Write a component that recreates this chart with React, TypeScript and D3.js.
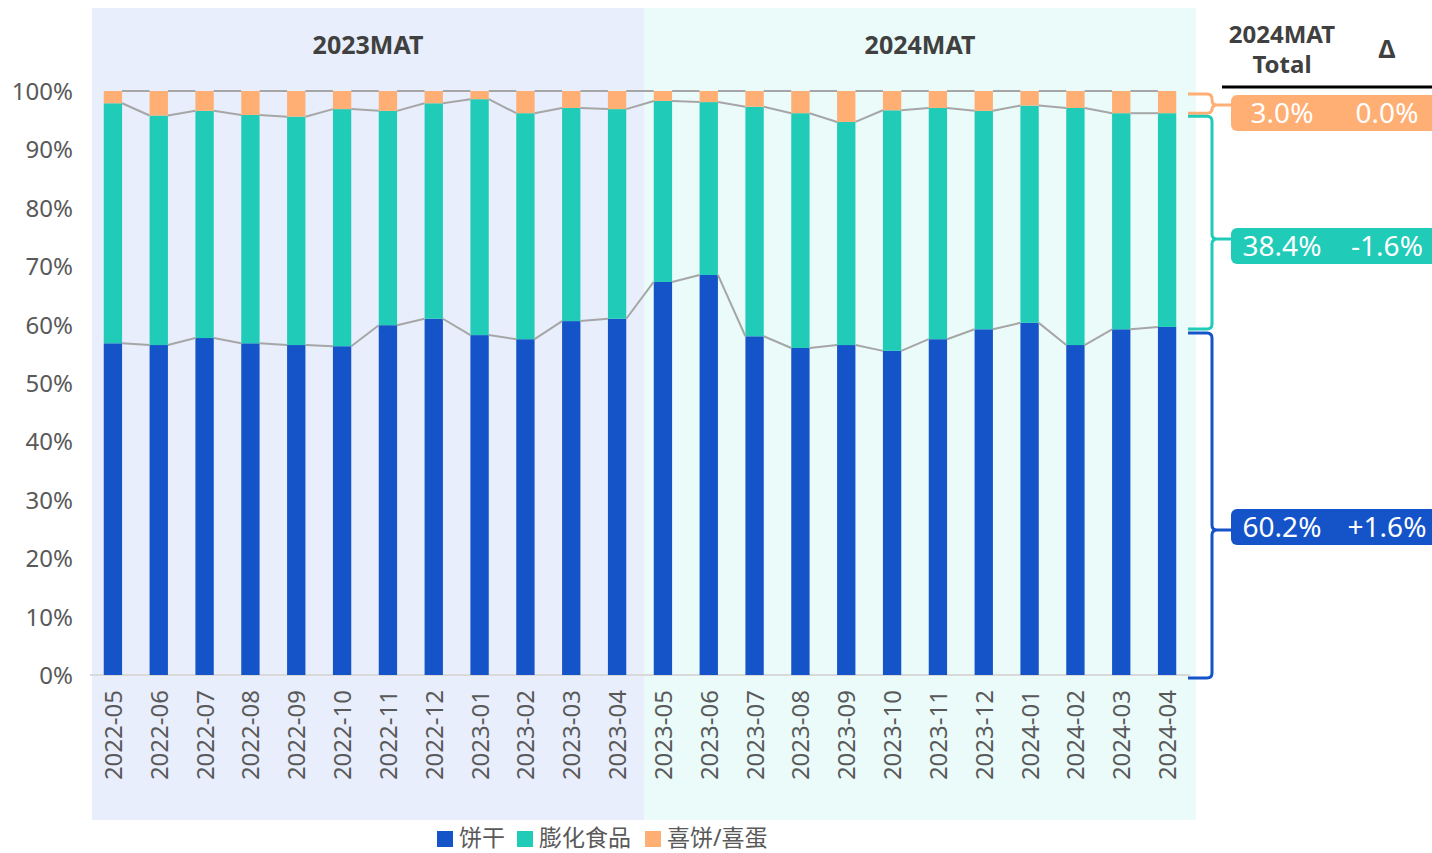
import React from 'react';
import * as d3 from 'd3';

// months on x axis
const months = [
  '2022-05', '2022-06', '2022-07', '2022-08', '2022-09', '2022-10', '2022-11', '2022-12',
  '2023-01', '2023-02', '2023-03', '2023-04', '2023-05', '2023-06', '2023-07', '2023-08',
  '2023-09', '2023-10', '2023-11', '2023-12', '2024-01', '2024-02', '2024-03', '2024-04',
];

const seriesNames = ['饼干', '膨化食品', '喜饼/喜蛋'];
const seriesColors = ['#1453C8', '#20CBB8', '#FFAE74'];

// share of each category, %
const biscuit = [56.8, 56.5, 57.7, 56.8, 56.5, 56.3, 59.9, 61.0, 58.2, 57.5, 60.6, 61.0, 67.3, 68.5, 58.0, 56.0, 56.5, 55.5, 57.5, 59.2, 60.3, 56.5, 59.2, 59.6];
const puffed = [41.1, 39.3, 38.9, 39.1, 39.1, 40.6, 36.7, 36.9, 40.4, 38.7, 36.5, 35.9, 31.0, 29.6, 39.3, 40.2, 38.2, 41.2, 39.6, 37.4, 37.2, 40.6, 37.0, 36.6];
const wedding = [2.1, 4.2, 3.4, 4.1, 4.4, 3.1, 3.4, 2.1, 1.4, 3.8, 2.9, 3.1, 1.7, 1.9, 2.7, 3.8, 5.3, 3.3, 2.9, 3.4, 2.5, 2.9, 3.8, 3.8];

const periods = ['2023MAT', '2024MAT'];
const yTicks = [0, 10, 20, 30, 40, 50, 60, 70, 80, 90, 100];

// 2024MAT total share and change, ordered wedding / puffed / biscuit
const totalLabels = ['3.0%', '38.4%', '60.2%'];
const deltaLabels = ['0.0%', '-1.6%', '+1.6%'];

const FONT = '"Noto Sans", "Noto Sans CJK SC", sans-serif';
const GRAY = '#595959';

export default function App() {
  const width = 1432;
  const height = 853;

  const x = d3.scaleBand<string>().domain(months).range([90, 1190]).paddingInner(0.6).paddingOuter(0.3);
  const y = d3.scaleLinear().domain([0, 100]).range([675, 91]);
  const bw = x.bandwidth();

  const rows = months.map((m, i) => ({ month: m, s0: biscuit[i], s1: puffed[i], s2: wedding[i] }));
  const stacked = d3.stack<any>().keys(['s0', 's1', 's2'])(rows);

  // brace spans from the last bar
  const last = rows.length - 1;
  const cum1 = biscuit[last];
  const cum2 = biscuit[last] + puffed[last];
  const braces = [
    { top: y(100) + 3, bot: y(cum2), tip: 105, box: 113, color: seriesColors[2] },
    { top: y(cum2) + 3, bot: y(cum1) + 2, tip: 239, box: 246, color: seriesColors[1] },
    { top: y(cum1) + 6, bot: y(0) + 3, tip: 530, box: 527, color: seriesColors[0] },
  ];

  const bx0 = 1188;
  const bx1 = 1212;
  const r = 5;
  const bracePath = (b: any) =>
    `M${bx0},${b.top} L${bx1 - r},${b.top} Q${bx1},${b.top} ${bx1},${b.top + r} ` +
    `L${bx1},${b.tip - r} Q${bx1},${b.tip} ${bx1 + r},${b.tip} Q${bx1},${b.tip} ${bx1},${b.tip + r} ` +
    `L${bx1},${b.bot - r} Q${bx1},${b.bot} ${bx1 - r},${b.bot} L${bx0},${b.bot}`;

  return (
    <svg width={width} height={height} style={{ display: 'block', position: 'absolute', left: 0, top: 0 }}>
      <rect x={0} y={0} width={width} height={height} fill="#fff" />
      {/* period backgrounds */}
      <rect x={92} y={8} width={552} height={812} fill="#E8EEFB" />
      <rect x={644} y={8} width={552} height={812} fill="#EAFBF9" />
      {periods.map((p, i) => (
        <text key={p} x={368 + i * 552} y={54} textAnchor="middle" fontFamily={FONT} fontWeight="bold"
          fontSize={25} fill="#404040">{p}</text>
      ))}

      {/* y axis labels */}
      {yTicks.map(t => (
        <text key={t} x={73} y={y(t) + 9} textAnchor="end" fontFamily={FONT} fontSize={24} fill={GRAY}>{t}%</text>
      ))}
      <line x1={90} x2={1190} y1={y(0)} y2={y(0)} stroke="#D9D9D9" strokeWidth={2} />

      {/* bars */}
      {stacked.map((layer, k) => (
        <g key={k} fill={seriesColors[k]}>
          {layer.map((d: any, i: number) => (
            <rect key={i} x={x(months[i])} y={y(d[1])} width={bw} height={y(d[0]) - y(d[1])} />
          ))}
        </g>
      ))}

      {/* series lines between bars */}
      {stacked.map((layer, k) => (
        <g key={'l' + k} stroke="#A6A6A6" strokeWidth={2}>
          {layer.slice(0, -1).map((d: any, i: number) => (
            <line key={i} x1={(x(months[i]) as number) + bw} x2={x(months[i + 1])}
              y1={y(d[1])} y2={y(layer[i + 1][1])} />
          ))}
        </g>
      ))}

      {/* x axis labels */}
      {months.map(m => {
        const cx = (x(m) as number) + bw / 2;
        return (
          <text key={m} transform={`translate(${cx + 9},690) rotate(-90)`} textAnchor="end"
            fontFamily={FONT} fontSize={24} fill={GRAY}>{m}</text>
        );
      })}

      {/* right side total table */}
      <text x={1282} y={43} textAnchor="middle" fontFamily={FONT} fontWeight="bold" fontSize={24} fill="#404040">2024MAT</text>
      <text x={1282} y={73} textAnchor="middle" fontFamily={FONT} fontWeight="bold" fontSize={24} fill="#404040">Total</text>
      <text x={1387} y={58} textAnchor="middle" fontFamily={FONT} fontWeight="bold" fontSize={25} fill="#404040">Δ</text>
      <line x1={1222} x2={1432} y1={87} y2={87} stroke="#000" strokeWidth={3} />

      {braces.map((b, i) => (
        <g key={i}>
          <path d={bracePath(b)} fill="none" stroke={b.color} strokeWidth={3} />
          <line x1={bx1 + r} x2={1234} y1={b.tip} y2={b.tip} stroke={b.color} strokeWidth={3} />
          <rect x={1231} y={b.box - 18} width={210} height={36} rx={6} fill={b.color} />
          <text x={1282} y={b.box + 10} textAnchor="middle" fontFamily={FONT} fontSize={28} fill="#fff">{totalLabels[i]}</text>
          <text x={1387} y={b.box + 10} textAnchor="middle" fontFamily={FONT} fontSize={28} fill="#fff">{deltaLabels[i]}</text>
        </g>
      ))}

      {/* legend */}
      {seriesNames.map((n, i) => {
        const lx = [437, 517, 645][i];
        return (
          <g key={n}>
            <rect x={lx} y={831} width={16} height={16} fill={seriesColors[i]} />
            <text x={lx + 22} y={846} fontFamily={FONT} fontSize={23} fill={GRAY}>{n}</text>
          </g>
        );
      })}
    </svg>
  );
}
